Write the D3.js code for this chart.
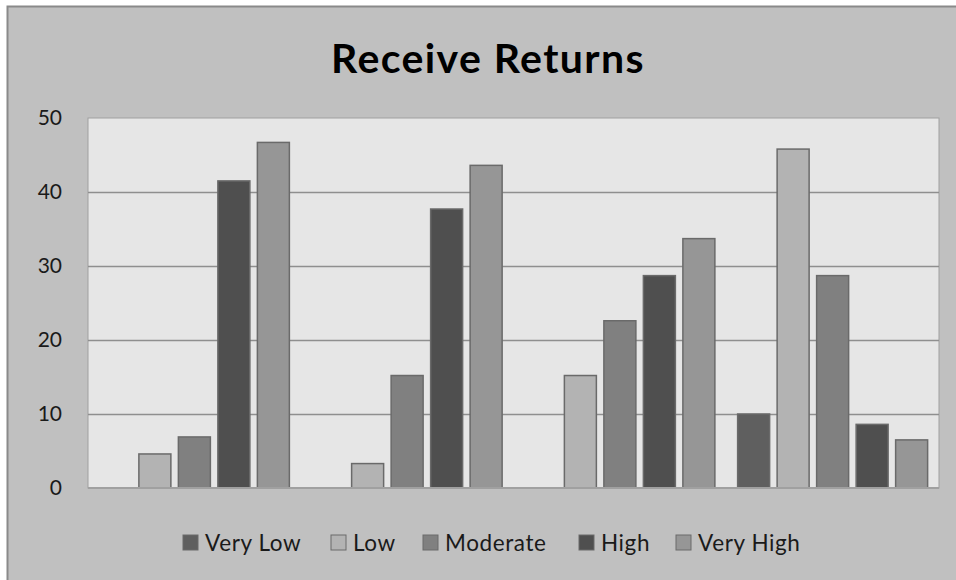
<!DOCTYPE html>
<html>
<head>
<meta charset="utf-8">
<script src="https://cdn.jsdelivr.net/npm/d3@7"></script>
<style>
  html, body { margin: 0; padding: 0; background: #ffffff; }
  svg { display: block; }
</style>
</head>
<body>
<svg id="chart" width="956" height="580"></svg>
<script>
// Groups along the x axis (no labels are shown for them)
const groups = ["G1", "G2", "G3", "G4"];
// Rating series, in legend order
const series = ["Very Low", "Low", "Moderate", "High", "Very High"];
const seriesColors = ["#5f5f5f", "#b3b3b3", "#808080", "#4f4f4f", "#969696"];
// Values per series, one per group (null = no bar)
const veryLow  = [null, null, null, 10.0];
const low      = [4.6, 3.3, 15.2, 45.8];
const moderate = [6.9, 15.2, 22.6, 28.7];
const high     = [41.5, 37.7, 28.7, 8.6];
const veryHigh = [46.7, 43.6, 33.7, 6.5];
const yTicks = [0, 10, 20, 30, 40, 50];

const values = [veryLow, low, moderate, high, veryHigh];

const svg = d3.select("#chart");
const W = 956, H = 580;
const font = "Lato, 'Open Sans', 'Liberation Sans', sans-serif";

// Chart background and outer frame
svg.append("rect").attr("x", 0).attr("y", 0).attr("width", W).attr("height", H).attr("fill", "#ffffff");
svg.append("rect")
  .attr("x", 7.5).attr("y", 6.5).attr("width", W + 20).attr("height", H + 20)
  .attr("fill", "#c0c0c0").attr("stroke", "#8a8a8a").attr("stroke-width", 2);

const plot = { left: 88, top: 118, right: 939, bottom: 488 };

const x0 = d3.scaleBand().domain(groups).range([plot.left, plot.right]).padding(0);
const y = d3.scaleLinear().domain([0, 50]).range([plot.bottom, plot.top]);

// Plot area
svg.append("rect")
  .attr("x", plot.left).attr("y", plot.top)
  .attr("width", plot.right - plot.left).attr("height", plot.bottom - plot.top)
  .attr("fill", "#e6e6e6").attr("stroke", "#a0a0a0").attr("stroke-width", 1);

// Horizontal gridlines
svg.append("g")
  .selectAll("line")
  .data(yTicks.filter(t => t > 0 && t < 50))
  .join("line")
  .attr("x1", plot.left).attr("x2", plot.right)
  .attr("y1", d => Math.round(y(d)) + 0.5).attr("y2", d => Math.round(y(d)) + 0.5)
  .attr("stroke", "#8f8f8f").attr("stroke-width", 1.5);

// Y axis tick labels
const yAxis = d3.axisLeft(y).tickValues(yTicks).tickSize(0).tickPadding(26);
const gy = svg.append("g").attr("transform", `translate(${plot.left},0)`).call(yAxis);
gy.select(".domain").remove();
gy.selectAll("text")
  .attr("font-family", font).attr("font-size", 21).attr("fill", "#1a1a1a");

// Bars: within each group, five slots of equal pitch centred on the group
const pitch = 39.5, barW = 32;
const xSlot = d3.scaleLinear().domain([0, series.length - 1])
  .range([-2 * pitch, 2 * pitch]);

const rows = [];
series.forEach((s, si) => {
  groups.forEach((g, gi) => {
    const v = values[si][gi];
    if (v != null) rows.push({ s, si, g, v });
  });
});

svg.append("g")
  .selectAll("rect")
  .data(rows)
  .join("rect")
  .attr("x", d => x0(d.g) + x0.bandwidth() / 2 + xSlot(d.si) - barW / 2)
  .attr("y", d => y(d.v))
  .attr("width", barW)
  .attr("height", d => y(0) - y(d.v))
  .attr("fill", d => seriesColors[d.si])
  .attr("stroke", "#6a6a6a")
  .attr("stroke-width", 1.5);

// X axis baseline
svg.append("line")
  .attr("x1", plot.left).attr("x2", plot.right)
  .attr("y1", plot.bottom).attr("y2", plot.bottom)
  .attr("stroke", "#a0a0a0").attr("stroke-width", 2);

// Title
svg.append("text")
  .attr("x", 488).attr("y", 73)
  .attr("text-anchor", "middle")
  .attr("font-family", font).attr("font-weight", "bold").attr("font-size", 41)
  .attr("letter-spacing", 1.4)
  .attr("fill", "#000000")
  .text("Receive Returns");

// Legend
const legendX = [183, 331, 423, 579, 676];
const legend = svg.append("g");
series.forEach((s, i) => {
  legend.append("rect")
    .attr("x", legendX[i]).attr("y", 535)
    .attr("width", 15).attr("height", 15)
    .attr("fill", seriesColors[i]).attr("stroke", "#6a6a6a").attr("stroke-width", 1);
  legend.append("text")
    .attr("x", legendX[i] + 22).attr("y", 551)
    .attr("font-family", font).attr("font-size", 22.5).attr("letter-spacing", 0.6)
    .attr("fill", "#1a1a1a")
    .text(s);
});
</script>
</body>
</html>
